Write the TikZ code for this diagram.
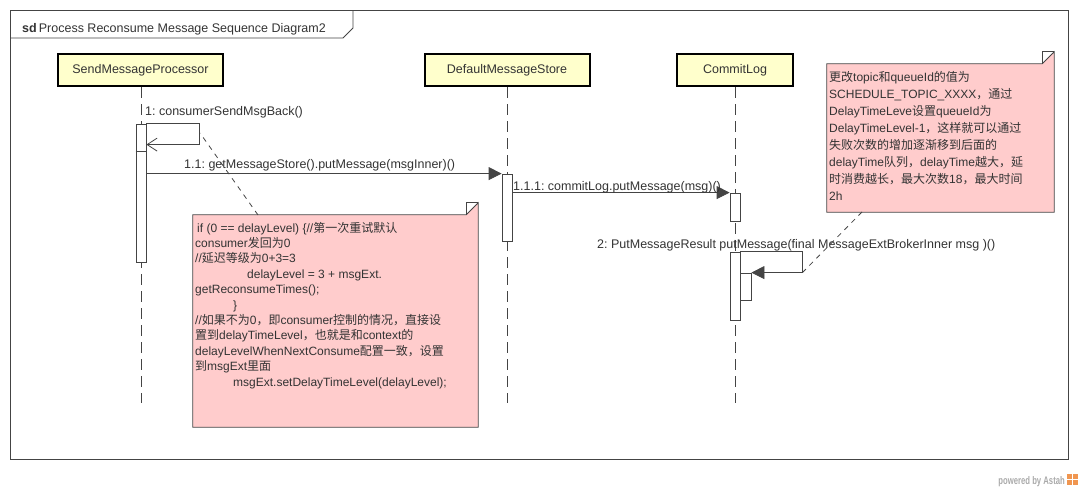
\documentclass[tikz,border=0pt]{standalone}
\usepackage{fontspec}
\setmainfont{Liberation Sans}
\newfontfamily\cjk{Noto Sans CJK SC}
\newfontfamily\narrowbold[FakeStretch=0.7]{Liberation Sans Bold}
\usetikzlibrary{arrows.meta}
\newcommand\zh[1]{{\cjk #1}}
\definecolor{headfill}{RGB}{255,255,204}
\definecolor{notefill}{RGB}{255,204,204}
\definecolor{ink}{RGB}{51,51,51}
\definecolor{lineg}{RGB}{68,68,68}
\definecolor{astah}{RGB}{240,150,80}
\frenchspacing
\tikzset{
  every node/.style={font=\fontsize{12.5}{15}\selectfont, text=ink},
  head/.style={draw=black, line width=2pt, fill=headfill, minimum width=165pt, minimum height=32pt, inner sep=0pt},
  lifeline/.style={draw=lineg, line width=0.9pt, dash pattern=on 11pt off 6pt},
  bar/.style={draw=lineg, fill=white, line width=0.8pt, minimum width=10pt, inner sep=0pt},
  sync/.style={draw=lineg, line width=0.8pt, -{Triangle[length=13pt,width=13pt]}},
  selfopen/.style={draw=lineg, line width=0.8pt, -{Straight Barb[length=10pt,width=13pt]}},
  lbl/.style={anchor=base west, inner sep=0pt},
  notebox/.style={draw=none, inner sep=0pt},
  notepath/.style={draw=lineg, fill=notefill, line width=0.8pt},
  notelink/.style={draw=lineg, line width=0.8pt, dash pattern=on 5pt off 5pt},
  ntxt/.style={anchor=base west, inner sep=0pt, font=\fontsize{12}{14}\selectfont},
}
\begin{document}
\begin{tikzpicture}[x=1pt,y=-1pt]
\useasboundingbox (0,0) rectangle (1080,490);
% frame
\draw[lineg, line width=0.9pt] (10.5,10.5) rectangle (1068.5,459.5);
\draw[lineg, line width=0.9pt] (10.5,38) -- (343,38) -- (353,28) -- (353,10.5);
\node[lbl] (title) at (22,32) {\textbf{sd}\,Process Reconsume Message Sequence Diagram2};

% heads
\node[head] (smp) at (140.5,70) {SendMessageProcessor};
\node[head] (dms) at (507,70) {DefaultMessageStore};
\node[head, minimum width=116pt] (cl) at (735,70) {CommitLog};

% lifelines
\coordinate (smpEnd) at (141,403);
\coordinate (dmsEnd) at (507,403);
\coordinate (clEnd) at (735,403);
\draw[lifeline] (smp.south -| smpEnd) -- (smpEnd);
\draw[lifeline] (dms.south -| dmsEnd) -- (dmsEnd);
\draw[lifeline] (cl.south -| clEnd) -- (clEnd);

% activation bars
\node[bar, minimum height=138pt] (barA) at (141,193) {};
\draw[lineg, line width=0.8pt] (barA.west |- 0,151) -- (barA.east |- 0,151);
\node[bar, minimum height=67pt] (barB) at (507,207.5) {};
\node[bar, minimum height=28pt] (barC) at (735,207) {};
\node[bar, minimum height=68pt] (barD) at (735,286) {};
\node[bar, minimum height=27pt, minimum width=11pt] (barE) at (745.5,286.5) {};

% messages
\draw[selfopen] (barA.north east) -- ++(53,0) -- ++(0,21) coordinate (m1c) -- (barA.east |- m1c);
\node[lbl] (m1) at (145,115) {1: consumerSendMsgBack()};

\draw[sync] (barA.east |- barB.north) -- (barB.north west);
\node[lbl] (m11) at (184,168) {1.1: getMessageStore().putMessage(msgInner)()};

\draw[sync] (barB.east |- barC.north) -- (barC.north west);
\node[lbl] (m111) at (513,190) {1.1.1: commitLog.putMessage(msg)()};

\node[lbl] (m2) at (597,248) {2: PutMessageResult putMessage(final MessageExtBrokerInner msg )()};
\draw[sync] (barD.north east) -- ++(62,0) -- ++(0,21) coordinate (m2c) -- (barE.north east);

% left note
\node[notebox, minimum width=285pt, minimum height=212pt] (noteL) at (335.5,321) {};
\path[notepath] (noteL.north west) -- ([xshift=-12pt]noteL.north east) -- ([yshift=12pt]noteL.north east) -- (noteL.south east) -- (noteL.south west) -- cycle;
\draw[lineg, line width=0.8pt] ([xshift=-12pt]noteL.north east) -- ([xshift=-12pt,yshift=12pt]noteL.north east) -- ([yshift=12pt]noteL.north east);
\coordinate (noteLtop) at (258,215);
\coordinate (m1corner) at (200,133);
\draw[notelink] (noteLtop) -- (m1corner);
\foreach \t [count=\i from 0] in {
 {\hspace*{2pt}if (0 == delayLevel) \{//\zh{第一次重试默认}},
 {consumer\zh{发回为}0},
 {//\zh{延迟等级为}0+3=3},
 {\hspace*{52pt}delayLevel = 3 + msgExt.},
 {getReconsumeTimes();},
 {\hspace*{38pt}\}},
 {//\zh{如果不为}0\zh{，即}consumer\zh{控制的情况，直接设}},
 {\zh{置到}delayTimeLevel\zh{，也就是和}context\zh{的}},
 {delayLevelWhenNextConsume\zh{配置一致，设置}},
 {\zh{到}msgExt\zh{里面}},
 {\hspace*{38pt}msgExt.setDelayTimeLevel(delayLevel);}
}{
 \node[ntxt] (nl\i) at (195,232+15.4*\i) {\t};
}

% right note
\node[notebox, minimum width=227pt, minimum height=148pt] (noteR) at (940.5,138) {};
\path[notepath] (noteR.north west) -- ([xshift=-12pt]noteR.north east) -- ([yshift=12pt]noteR.north east) -- (noteR.south east) -- (noteR.south west) -- cycle;
\draw[lineg, line width=0.8pt] ([xshift=-12pt]noteR.north east) -- ([xshift=-12pt,yshift=12pt]noteR.north east) -- ([yshift=12pt]noteR.north east);
\coordinate (noteRbot) at (862,212);
\draw[notelink] (noteRbot) -- (m2c);
\foreach \t [count=\i from 0] in {
 {\zh{更改}topic\zh{和}queueId\zh{的值为}},
 {SCHEDULE\_TOPIC\_XXXX\zh{，通过}},
 {DelayTimeLeve\zh{设置}queueId\zh{为}},
 {DelayTimeLevel-1\zh{，这样就可以通过}},
 {\zh{失败次数的增加逐渐移到后面的}},
 {delayTime\zh{队列，}delayTime\zh{越大，延}},
 {\zh{时消费越长，最大次数}18\zh{，最大时间}},
 {2h}
}{
 \node[ntxt] (nr\i) at (829,81+17.14*\i) {\t};
}

% powered by
\node[anchor=base east, inner sep=0pt, font=\fontsize{11}{12}\narrowbold, text={rgb,255:red,170;green,170;blue,170}] (pw) at (1065,484) {powered by Astah};
\fill[astah] (1067,474) rectangle (1078,485);
\draw[white, line width=0.6pt] (1067,479.5) -- (1078,479.5) (1072.5,474) -- (1072.5,485);
\end{tikzpicture}
\end{document}
